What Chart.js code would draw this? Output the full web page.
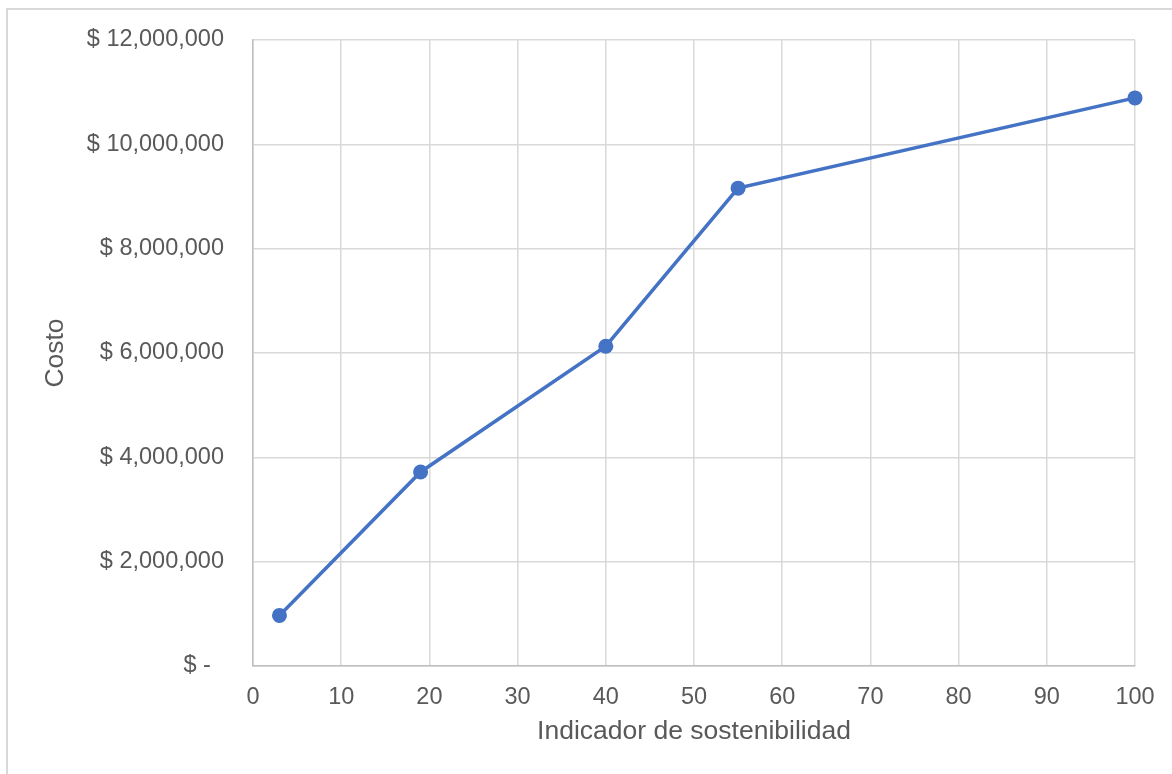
<!DOCTYPE html>
<html>
<head>
<meta charset="utf-8">
<script src="https://cdn.jsdelivr.net/npm/chart.js@4"></script>
<style>
  html, body { margin: 0; padding: 0; background: #ffffff; overflow: hidden; }
  #wrap { position: relative; width: 1172px; height: 774px; }
  #frame { position: absolute; left: 6px; top: 8px; width: 2000px; height: 2000px; border: 2px solid #d9d9d9; box-sizing: border-box; }
  canvas { position: absolute; left: 0; top: 0; }
</style>
</head>
<body>
<div id="wrap">
  <div id="frame"></div>
  <canvas id="c" width="1172" height="774"></canvas>
</div>
<script>
// Data
const sustainabilityIndex = [3, 19, 40, 55, 100];
const costValues = [970000, 3720000, 6130000, 9160000, 10890000];
const xTickValues = [0, 10, 20, 30, 40, 50, 60, 70, 80, 90, 100];
const yTickValues = [0, 2000000, 4000000, 6000000, 8000000, 10000000, 12000000];
const xTitle = 'Indicador de sostenibilidad';
const yTitle = 'Costo';

const points = sustainabilityIndex.map((x, i) => ({ x: x, y: costValues[i] }));
const FONT = 'Liberation Sans, Arial, sans-serif';
const TEXT = '#595959';

function fmtCost(v) {
  if (v === 0) return '$ -  ';
  return '$ ' + v.toLocaleString('en-US');
}

new Chart(document.getElementById('c'), {
  type: 'scatter',
  data: {
    datasets: [{
      data: points,
      showLine: true,
      clip: false,
      borderColor: '#4472C4',
      backgroundColor: '#4472C4',
      borderWidth: 3.5,
      pointRadius: 7.5,
      pointBorderWidth: 0,
      pointBackgroundColor: '#4472C4',
      tension: 0
    }]
  },
  options: {
    responsive: false,
    devicePixelRatio: 1,
    animation: false,
    layout: { padding: { top: 40, right: 37, left: 0, bottom: 0 } },
    plugins: { legend: { display: false }, tooltip: { enabled: false } },
    scales: {
      x: {
        type: 'linear',
        min: xTickValues[0],
        max: xTickValues[xTickValues.length - 1],
        afterBuildTicks: (s) => { s.ticks = xTickValues.map(v => ({ value: v })); },
        afterFit: (s) => { s.height = 108; s.paddingLeft = 0; s.paddingRight = 0; },
        grid: { color: '#d9d9d9', lineWidth: 1.5, drawTicks: false },
        border: { color: '#bfbfbf', width: 1.5 },
        ticks: { color: TEXT, font: { family: FONT, size: 23.5 }, padding: 17, maxRotation: 0, autoSkip: false },
        title: { display: true, text: xTitle, color: TEXT, font: { family: FONT, size: 26.5 }, padding: { top: 0, bottom: 26 } }
      },
      y: {
        type: 'linear',
        min: yTickValues[0],
        max: yTickValues[yTickValues.length - 1],
        afterBuildTicks: (s) => { s.ticks = yTickValues.map(v => ({ value: v })); },
        afterFit: (s) => { s.width = 253; s.paddingTop = 0; s.paddingBottom = 0; },
        grid: { color: '#d9d9d9', lineWidth: 1.5, drawTicks: false },
        border: { color: '#bfbfbf', width: 1.5 },
        ticks: { color: TEXT, font: { family: FONT, size: 23.5 }, padding: 29, callback: (v) => fmtCost(v) },
        title: { display: true, text: yTitle, color: TEXT, font: { family: FONT, size: 26.5 }, padding: { top: 40, bottom: 0 } }
      }
    }
  }
});
</script>
</body>
</html>
